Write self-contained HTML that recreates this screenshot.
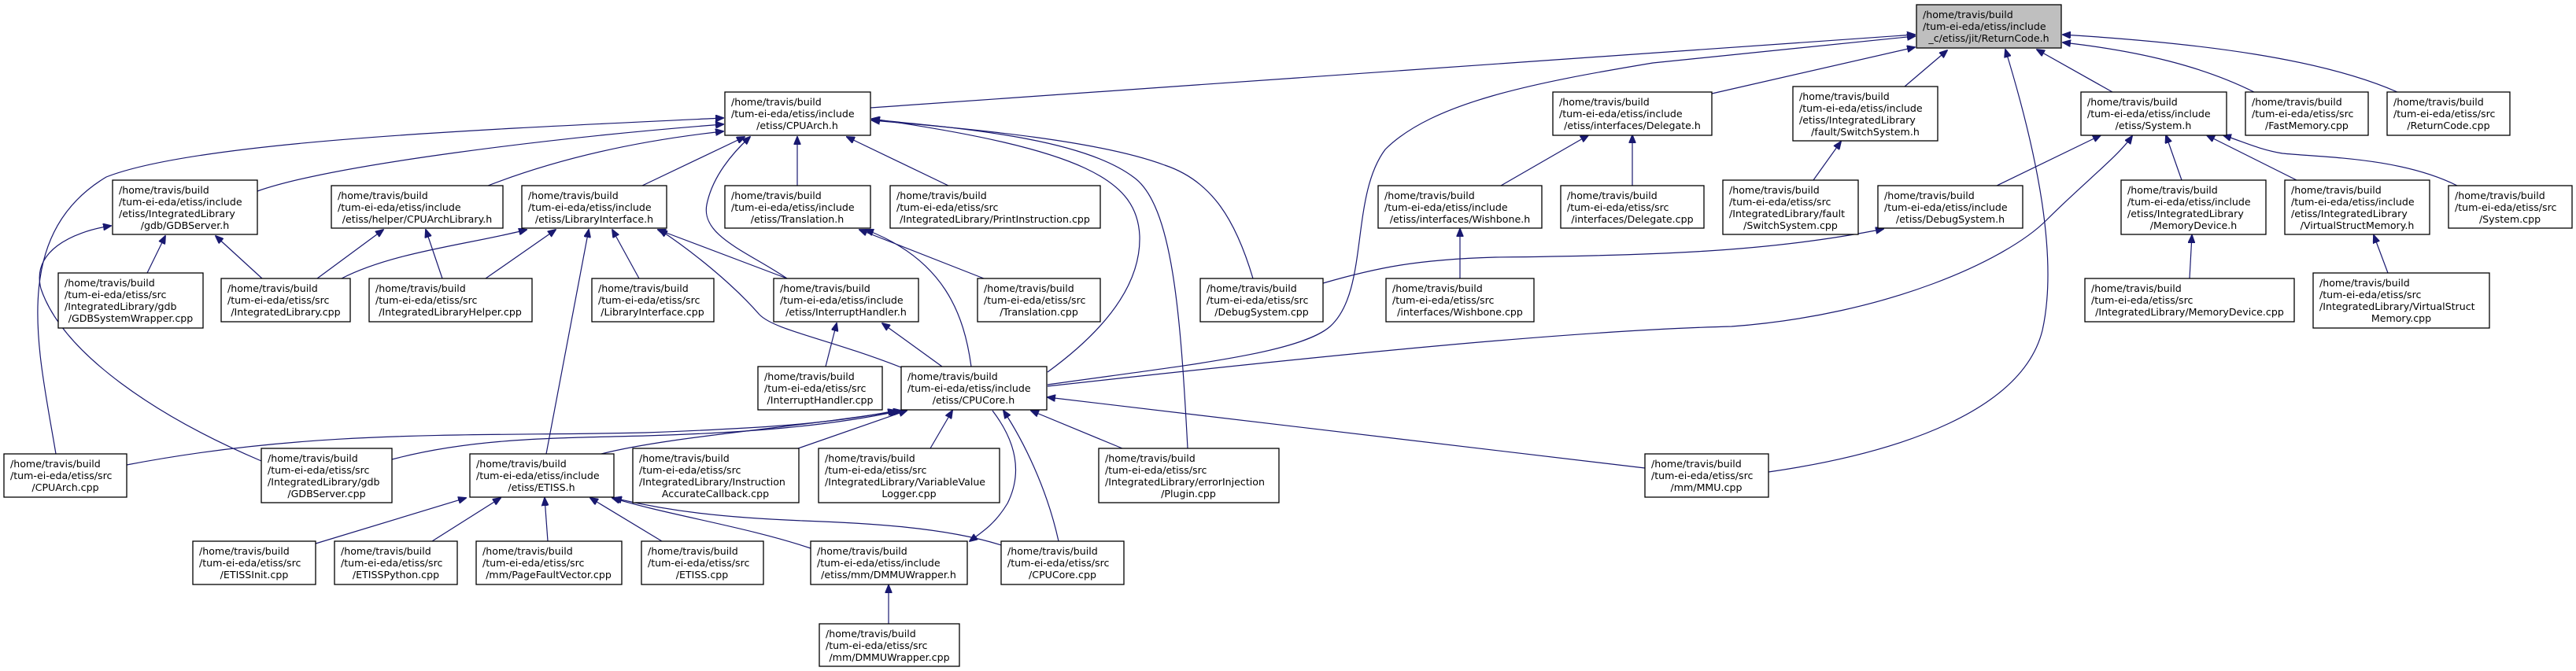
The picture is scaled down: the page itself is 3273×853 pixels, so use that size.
<!DOCTYPE html>
<html><head><meta charset="utf-8"><style>
html,body{margin:0;padding:0;background:#fff;}
svg{display:block;}
text{font-family:"DejaVu Sans","Liberation Sans",sans-serif;font-size:12.6px;fill:#000;}
.e{fill:none;stroke:#191970;stroke-width:1.2;marker-end:url(#a);}
rect{stroke:#000;stroke-width:1.3;fill:#fff;}
</style></head><body>
<svg width="3273" height="853" viewBox="0 0 3273 853" xmlns="http://www.w3.org/2000/svg">
<defs><marker id="a" markerWidth="11" markerHeight="9" refX="10" refY="4.5" orient="auto" markerUnits="userSpaceOnUse"><path d="M0,0 L11,4.5 L0,9 z" fill="#191970" stroke="#191970"/></marker></defs>

<!-- edges -->
<path class="e" d="M1106,137 L2433,44"/>
<path class="e" d="M1331,489 C1500,465 1650,450 1690,415 C1740,370 1715,250 1760,190 C1820,130 1950,105 2100,80 L2433,46"/>
<path class="e" d="M2175,119 L2433,60"/>
<path class="e" d="M2420,110 L2474,64"/>
<path class="e" d="M2247,600 C2420,575 2570,520 2595,420 C2615,330 2590,200 2548,63"/>
<path class="e" d="M2684,117 L2588,63"/>
<path class="e" d="M2864,117 C2800,85 2720,65 2621,54"/>
<path class="e" d="M3046,117 C2950,75 2800,55 2621,44"/>

<path class="e" d="M71,577 C50,450 10,300 135,225 C250,180 600,165 919,150"/>
<path class="e" d="M327,243 C420,210 700,175 919,158"/>
<path class="e" d="M620,236 C700,205 800,180 919,167"/>
<path class="e" d="M816,236 L946,174"/>
<path class="e" d="M1000,354 C950,320 890,300 898,260 C905,225 930,195 953,174"/>
<path class="e" d="M1013,236 L1013,174"/>
<path class="e" d="M1205,236 L1076,174"/>
<path class="e" d="M1592,354 C1570,280 1540,230 1480,210 C1400,180 1250,165 1108,153"/>
<path class="e" d="M1509,570 C1500,400 1490,260 1440,225 C1380,180 1250,165 1108,152"/>
<path class="e" d="M1331,473 C1390,430 1450,370 1448,300 C1445,230 1380,190 1108,151"/>

<path class="e" d="M434,354 C500,320 600,310 669,292"/>
<path class="e" d="M617,354 L706,292"/>
<path class="e" d="M694,577 L748,292"/>
<path class="e" d="M812,354 L778,292"/>
<path class="e" d="M1000,354 L836,292"/>
<path class="e" d="M1145,467 C1050,430 985,420 965,400 C930,360 880,320 838,292"/>

<path class="e" d="M187,347 L210,300"/>
<path class="e" d="M333,354 L274,300"/>
<path class="e" d="M332,586 C200,530 80,450 52,367 C40,320 90,295 141,287"/>
<path class="e" d="M403,354 L487,292"/>
<path class="e" d="M562,354 L541,292"/>
<path class="e" d="M1250,354 L1092,292"/>
<path class="e" d="M1234,466 C1225,400 1200,330 1100,292"/>
<path class="e" d="M1049,466 L1063,411"/>
<path class="e" d="M1197,466 L1121,411"/>

<path class="e" d="M161,591 C400,545 600,555 820,550 C950,545 1050,540 1138,522"/>
<path class="e" d="M498,584 C600,557 700,557 820,554 C950,550 1050,542 1140,523"/>
<path class="e" d="M764,577 C850,555 1000,545 1145,522"/>
<path class="e" d="M1014,570 L1152,522"/>
<path class="e" d="M1182,570 L1210,522"/>
<path class="e" d="M1426,570 L1310,522"/>
<path class="e" d="M1345,688 C1330,620 1300,560 1275,522"/>
<path class="e" d="M2090,595 L1331,505"/>
<path class="e" d="M1261,522 C1290,560 1300,600 1280,640 C1265,665 1250,675 1232,688"/>

<path class="e" d="M1331,491 C1700,450 2000,420 2200,415 C2400,400 2550,330 2600,280 C2650,230 2690,200 2709,173"/>
<path class="e" d="M2537,236 L2669,172"/>
<path class="e" d="M2772,229 L2752,172"/>
<path class="e" d="M2918,229 L2804,172"/>
<path class="e" d="M3122,236 C3050,200 2950,200 2900,195 C2870,190 2850,180 2825,172"/>
<path class="e" d="M1681,360 C1750,340 1800,330 1900,327 C2100,325 2250,320 2393,291"/>
<path class="e" d="M2782,354 L2785,299"/>
<path class="e" d="M3034,347 L3016,299"/>
<path class="e" d="M1907,236 L2018,172"/>
<path class="e" d="M2074,236 L2074,172"/>
<path class="e" d="M1855,354 L1855,291"/>
<path class="e" d="M2304,229 L2339,180"/>

<path class="e" d="M401,691 L592,633"/>
<path class="e" d="M549,688 L636,633"/>
<path class="e" d="M696,688 L692,633"/>
<path class="e" d="M841,688 L750,633"/>
<path class="e" d="M1030,697 C950,670 850,655 778,633"/>
<path class="e" d="M1272,693 C1200,670 1100,665 1020,662 C920,658 850,650 780,633"/>
<path class="e" d="M1129,793 L1129,744"/>

<!-- nodes -->
<rect x="2435" y="6" width="184" height="55" style="fill:#bfbfbf"/>
<text x="2443" y="23">/home/travis/build</text><text x="2443" y="38">/tum-ei-eda/etiss/include</text><text x="2527" y="53" text-anchor="middle">_c/etiss/jit/ReturnCode.h</text>

<rect x="921" y="117" width="185" height="55"/>
<text x="929" y="134">/home/travis/build</text><text x="929" y="149">/tum-ei-eda/etiss/include</text><text x="1013" y="164" text-anchor="middle">/etiss/CPUArch.h</text>

<rect x="1973" y="117" width="202" height="55"/>
<text x="1981" y="134">/home/travis/build</text><text x="1981" y="149">/tum-ei-eda/etiss/include</text><text x="2074" y="164" text-anchor="middle">/etiss/interfaces/Delegate.h</text>

<rect x="2278" y="110" width="184" height="69"/>
<text x="2286" y="127">/home/travis/build</text><text x="2286" y="142">/tum-ei-eda/etiss/include</text><text x="2286" y="157">/etiss/IntegratedLibrary</text><text x="2370" y="172" text-anchor="middle">/fault/SwitchSystem.h</text>

<rect x="2644" y="117" width="185" height="55"/>
<text x="2652" y="134">/home/travis/build</text><text x="2652" y="149">/tum-ei-eda/etiss/include</text><text x="2736" y="164" text-anchor="middle">/etiss/System.h</text>

<rect x="2853" y="117" width="156" height="55"/>
<text x="2861" y="134">/home/travis/build</text><text x="2861" y="149">/tum-ei-eda/etiss/src</text><text x="2931" y="164" text-anchor="middle">/FastMemory.cpp</text>

<rect x="3033" y="117" width="156" height="55"/>
<text x="3041" y="134">/home/travis/build</text><text x="3041" y="149">/tum-ei-eda/etiss/src</text><text x="3111" y="164" text-anchor="middle">/ReturnCode.cpp</text>

<rect x="143" y="229" width="184" height="69"/>
<text x="151" y="246">/home/travis/build</text><text x="151" y="261">/tum-ei-eda/etiss/include</text><text x="151" y="276">/etiss/IntegratedLibrary</text><text x="235" y="291" text-anchor="middle">/gdb/GDBServer.h</text>

<rect x="421" y="236" width="218" height="54"/>
<text x="429" y="253">/home/travis/build</text><text x="429" y="268">/tum-ei-eda/etiss/include</text><text x="530" y="283" text-anchor="middle">/etiss/helper/CPUArchLibrary.h</text>

<rect x="663" y="236" width="184" height="54"/>
<text x="671" y="253">/home/travis/build</text><text x="671" y="268">/tum-ei-eda/etiss/include</text><text x="755" y="283" text-anchor="middle">/etiss/LibraryInterface.h</text>

<rect x="921" y="236" width="185" height="54"/>
<text x="929" y="253">/home/travis/build</text><text x="929" y="268">/tum-ei-eda/etiss/include</text><text x="1013" y="283" text-anchor="middle">/etiss/Translation.h</text>

<rect x="1131" y="236" width="267" height="54"/>
<text x="1139" y="253">/home/travis/build</text><text x="1139" y="268">/tum-ei-eda/etiss/src</text><text x="1264" y="283" text-anchor="middle">/IntegratedLibrary/PrintInstruction.cpp</text>

<rect x="1751" y="236" width="208" height="54"/>
<text x="1759" y="253">/home/travis/build</text><text x="1759" y="268">/tum-ei-eda/etiss/include</text><text x="1855" y="283" text-anchor="middle">/etiss/interfaces/Wishbone.h</text>

<rect x="1983" y="236" width="182" height="54"/>
<text x="1991" y="253">/home/travis/build</text><text x="1991" y="268">/tum-ei-eda/etiss/src</text><text x="2074" y="283" text-anchor="middle">/interfaces/Delegate.cpp</text>

<rect x="2189" y="229" width="172" height="69"/>
<text x="2197" y="246">/home/travis/build</text><text x="2197" y="261">/tum-ei-eda/etiss/src</text><text x="2197" y="276">/IntegratedLibrary/fault</text><text x="2275" y="291" text-anchor="middle">/SwitchSystem.cpp</text>

<rect x="2386" y="236" width="184" height="54"/>
<text x="2394" y="253">/home/travis/build</text><text x="2394" y="268">/tum-ei-eda/etiss/include</text><text x="2478" y="283" text-anchor="middle">/etiss/DebugSystem.h</text>

<rect x="2695" y="229" width="184" height="69"/>
<text x="2703" y="246">/home/travis/build</text><text x="2703" y="261">/tum-ei-eda/etiss/include</text><text x="2703" y="276">/etiss/IntegratedLibrary</text><text x="2787" y="291" text-anchor="middle">/MemoryDevice.h</text>

<rect x="2903" y="229" width="184" height="69"/>
<text x="2911" y="246">/home/travis/build</text><text x="2911" y="261">/tum-ei-eda/etiss/include</text><text x="2911" y="276">/etiss/IntegratedLibrary</text><text x="2995" y="291" text-anchor="middle">/VirtualStructMemory.h</text>

<rect x="3111" y="236" width="157" height="54"/>
<text x="3119" y="253">/home/travis/build</text><text x="3119" y="268">/tum-ei-eda/etiss/src</text><text x="3189" y="283" text-anchor="middle">/System.cpp</text>

<rect x="74" y="347" width="184" height="70"/>
<text x="82" y="364">/home/travis/build</text><text x="82" y="379">/tum-ei-eda/etiss/src</text><text x="82" y="394">/IntegratedLibrary/gdb</text><text x="166" y="409" text-anchor="middle">/GDBSystemWrapper.cpp</text>

<rect x="281" y="354" width="164" height="55"/>
<text x="289" y="371">/home/travis/build</text><text x="289" y="386">/tum-ei-eda/etiss/src</text><text x="363" y="401" text-anchor="middle">/IntegratedLibrary.cpp</text>

<rect x="469" y="354" width="207" height="55"/>
<text x="477" y="371">/home/travis/build</text><text x="477" y="386">/tum-ei-eda/etiss/src</text><text x="572" y="401" text-anchor="middle">/IntegratedLibraryHelper.cpp</text>

<rect x="752" y="354" width="155" height="55"/>
<text x="760" y="371">/home/travis/build</text><text x="760" y="386">/tum-ei-eda/etiss/src</text><text x="829" y="401" text-anchor="middle">/LibraryInterface.cpp</text>

<rect x="983" y="354" width="184" height="55"/>
<text x="991" y="371">/home/travis/build</text><text x="991" y="386">/tum-ei-eda/etiss/include</text><text x="1075" y="401" text-anchor="middle">/etiss/InterruptHandler.h</text>

<rect x="1242" y="354" width="156" height="55"/>
<text x="1250" y="371">/home/travis/build</text><text x="1250" y="386">/tum-ei-eda/etiss/src</text><text x="1320" y="401" text-anchor="middle">/Translation.cpp</text>

<rect x="1525" y="354" width="156" height="55"/>
<text x="1533" y="371">/home/travis/build</text><text x="1533" y="386">/tum-ei-eda/etiss/src</text><text x="1603" y="401" text-anchor="middle">/DebugSystem.cpp</text>

<rect x="1761" y="354" width="188" height="55"/>
<text x="1769" y="371">/home/travis/build</text><text x="1769" y="386">/tum-ei-eda/etiss/src</text><text x="1855" y="401" text-anchor="middle">/interfaces/Wishbone.cpp</text>

<rect x="2649" y="354" width="266" height="55"/>
<text x="2657" y="371">/home/travis/build</text><text x="2657" y="386">/tum-ei-eda/etiss/src</text><text x="2782" y="401" text-anchor="middle">/IntegratedLibrary/MemoryDevice.cpp</text>

<rect x="2939" y="347" width="224" height="70"/>
<text x="2947" y="364">/home/travis/build</text><text x="2947" y="379">/tum-ei-eda/etiss/src</text><text x="2947" y="394">/IntegratedLibrary/VirtualStruct</text><text x="3051" y="409" text-anchor="middle">Memory.cpp</text>

<rect x="963" y="466" width="158" height="55"/>
<text x="971" y="483">/home/travis/build</text><text x="971" y="498">/tum-ei-eda/etiss/src</text><text x="1042" y="513" text-anchor="middle">/InterruptHandler.cpp</text>

<rect x="1145" y="466" width="185" height="55"/>
<text x="1153" y="483">/home/travis/build</text><text x="1153" y="498">/tum-ei-eda/etiss/include</text><text x="1237" y="513" text-anchor="middle">/etiss/CPUCore.h</text>

<rect x="5" y="577" width="156" height="55"/>
<text x="13" y="594">/home/travis/build</text><text x="13" y="609">/tum-ei-eda/etiss/src</text><text x="83" y="624" text-anchor="middle">/CPUArch.cpp</text>

<rect x="332" y="570" width="166" height="69"/>
<text x="340" y="587">/home/travis/build</text><text x="340" y="602">/tum-ei-eda/etiss/src</text><text x="340" y="617">/IntegratedLibrary/gdb</text><text x="415" y="632" text-anchor="middle">/GDBServer.cpp</text>

<rect x="597" y="577" width="183" height="55"/>
<text x="605" y="594">/home/travis/build</text><text x="605" y="609">/tum-ei-eda/etiss/include</text><text x="688" y="624" text-anchor="middle">/etiss/ETISS.h</text>

<rect x="804" y="570" width="211" height="69"/>
<text x="812" y="587">/home/travis/build</text><text x="812" y="602">/tum-ei-eda/etiss/src</text><text x="812" y="617">/IntegratedLibrary/Instruction</text><text x="909" y="632" text-anchor="middle">AccurateCallback.cpp</text>

<rect x="1040" y="570" width="230" height="69"/>
<text x="1048" y="587">/home/travis/build</text><text x="1048" y="602">/tum-ei-eda/etiss/src</text><text x="1048" y="617">/IntegratedLibrary/VariableValue</text><text x="1155" y="632" text-anchor="middle">Logger.cpp</text>

<rect x="1396" y="570" width="229" height="69"/>
<text x="1404" y="587">/home/travis/build</text><text x="1404" y="602">/tum-ei-eda/etiss/src</text><text x="1404" y="617">/IntegratedLibrary/errorInjection</text><text x="1510" y="632" text-anchor="middle">/Plugin.cpp</text>

<rect x="2090" y="577" width="157" height="55"/>
<text x="2098" y="594">/home/travis/build</text><text x="2098" y="609">/tum-ei-eda/etiss/src</text><text x="2168" y="624" text-anchor="middle">/mm/MMU.cpp</text>

<rect x="245" y="688" width="156" height="55"/>
<text x="253" y="705">/home/travis/build</text><text x="253" y="720">/tum-ei-eda/etiss/src</text><text x="323" y="735" text-anchor="middle">/ETISSInit.cpp</text>

<rect x="425" y="688" width="156" height="55"/>
<text x="433" y="705">/home/travis/build</text><text x="433" y="720">/tum-ei-eda/etiss/src</text><text x="503" y="735" text-anchor="middle">/ETISSPython.cpp</text>

<rect x="605" y="688" width="185" height="55"/>
<text x="613" y="705">/home/travis/build</text><text x="613" y="720">/tum-ei-eda/etiss/src</text><text x="697" y="735" text-anchor="middle">/mm/PageFaultVector.cpp</text>

<rect x="815" y="688" width="155" height="55"/>
<text x="823" y="705">/home/travis/build</text><text x="823" y="720">/tum-ei-eda/etiss/src</text><text x="892" y="735" text-anchor="middle">/ETISS.cpp</text>

<rect x="1030" y="688" width="199" height="55"/>
<text x="1038" y="705">/home/travis/build</text><text x="1038" y="720">/tum-ei-eda/etiss/include</text><text x="1129" y="735" text-anchor="middle">/etiss/mm/DMMUWrapper.h</text>

<rect x="1272" y="688" width="156" height="55"/>
<text x="1280" y="705">/home/travis/build</text><text x="1280" y="720">/tum-ei-eda/etiss/src</text><text x="1350" y="735" text-anchor="middle">/CPUCore.cpp</text>

<rect x="1041" y="793" width="178" height="54"/>
<text x="1049" y="810">/home/travis/build</text><text x="1049" y="825">/tum-ei-eda/etiss/src</text><text x="1130" y="840" text-anchor="middle">/mm/DMMUWrapper.cpp</text>
</svg>
</body></html>
